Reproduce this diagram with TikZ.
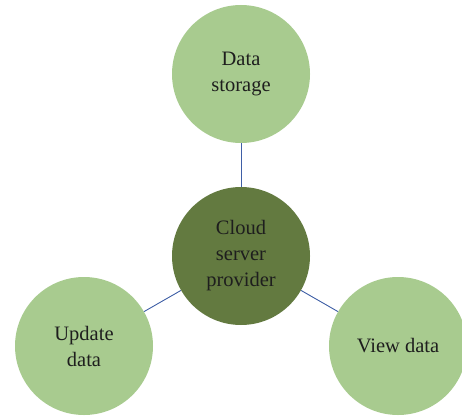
\documentclass[tikz,border=0pt]{standalone}
\usepackage{fontspec}
\setmainfont{Liberation Serif}
\definecolor{lightg}{HTML}{A8CB8F}
\definecolor{darkg}{HTML}{637A40}
\definecolor{linkc}{HTML}{3F5FA6}
\definecolor{txt}{HTML}{1E1E1E}
\begin{document}
\begin{tikzpicture}[x=1pt,y=-1pt,
  bubble/.style={circle,minimum size=138pt,inner sep=0pt,fill=lightg,draw=none,
    align=center,text=txt,font=\fontsize{20.5}{26}\selectfont},
  hub/.style={bubble,fill=darkg},
  link/.style={draw=linkc,line width=0.9pt}]
\useasboundingbox (0,0) rectangle (462,417);
\begin{scope}
\clip (0,0) rectangle (462,417);
\node[bubble] (store) at (241,74) {Data\\storage};
\node[hub] (cloud) at (241,256) {Cloud\\server\\provider};
\node[bubble] (update) at (84,346) {Update\\data};
\node[bubble] (view) at (398,346) {View data};
\draw[link] (store) -- (cloud);
\draw[link] (cloud) -- (update);
\draw[link] (cloud) -- (view);
\end{scope}
\end{tikzpicture}
\end{document}
